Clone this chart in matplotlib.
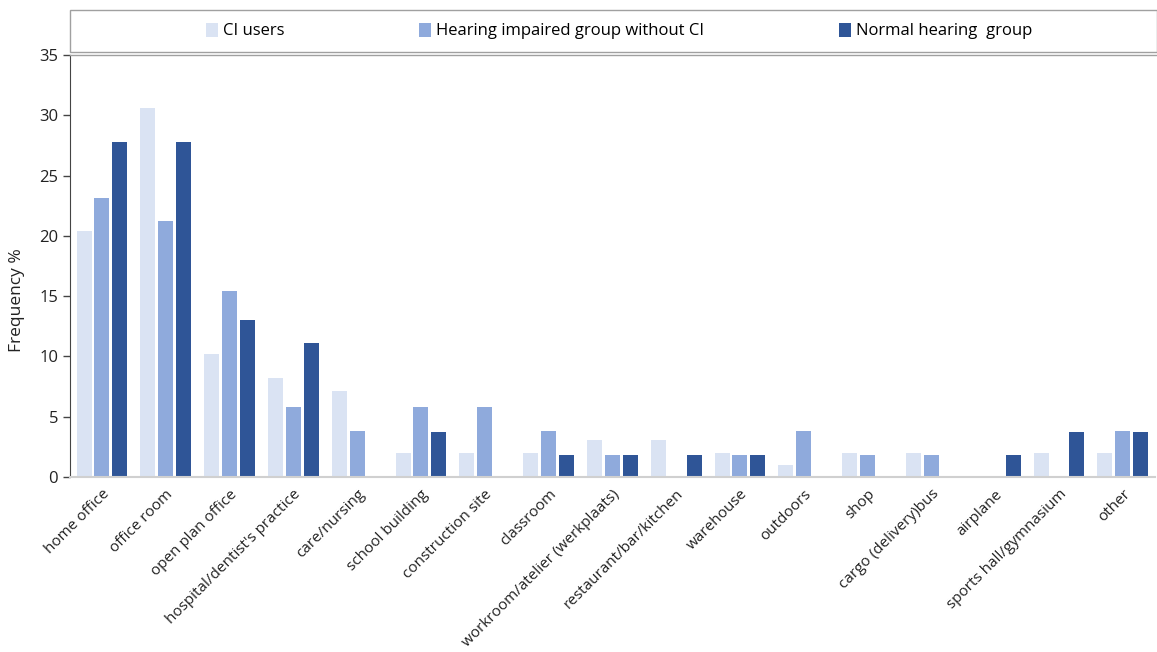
import matplotlib
matplotlib.use("Agg")
import matplotlib.pyplot as plt
import numpy as np
from matplotlib.patches import Rectangle

categories = [
    "home office", "office room", "open plan office", "hospital/dentist's practice",
    "care/nursing", "school building", "construction site", "classroom",
    "workroom/atelier (werkplaats)", "restaurant/bar/kitchen", "warehouse",
    "outdoors", "shop", "cargo (delivery)bus", "airplane",
    "sports hall/gymnasium", "other",
]
ci_users = [20.4, 30.6, 10.2, 8.2, 7.1, 2.0, 2.0, 2.0, 3.1, 3.1, 2.0, 1.0, 2.0, 2.0, 0.0, 2.0, 2.0]
hearing_impaired = [23.1, 21.2, 15.4, 5.8, 3.8, 5.8, 5.8, 3.8, 1.85, 0.0, 1.85, 3.8, 1.85, 1.85, 0.0, 0.0, 3.8]
normal_hearing = [27.8, 27.8, 13.0, 11.1, 0.0, 3.7, 0.0, 1.85, 1.85, 1.85, 1.85, 0.0, 0.0, 0.0, 1.85, 3.7, 3.7]
series_names = ["CI users", "Hearing impaired group without CI", "Normal hearing  group"]
y_ticks = [0, 5, 10, 15, 20, 25, 30, 35]

colors = ["#DAE3F3", "#8FAADC", "#2F5597"]
plt.rcParams["font.family"] = ["Open Sans", "DejaVu Sans"]

fig = plt.figure(figsize=(11.57, 6.52), dpi=100)
ax = fig.add_axes([70 / 1157, 1 - 477 / 652, 1 - 70 / 1157 - 0.002, (477 - 55) / 652])

x = np.arange(len(categories))
step = 0.28
width = 0.235
handles = []
for i, (vals, name, c) in enumerate(zip([ci_users, hearing_impaired, normal_hearing], series_names, colors)):
    h = ax.bar(x + (i - 1) * step, vals, width=width, color=c, label=name, zorder=2)
    handles.append(h)

ax.set_xlim(-0.5, len(categories) - 0.5)
ax.set_ylim(0, 35)
ax.set_yticks(y_ticks)
ax.set_yticklabels([str(t) for t in y_ticks], fontsize=12, color="#222222")
ax.set_ylabel("Frequency %", fontsize=12.5, color="#222222")
ax.yaxis.set_label_coords(-0.0414, (477 - 300) / (477 - 55))
ax.set_xticks(x)
ax.set_xticklabels(categories, rotation=45, ha="right", rotation_mode="anchor", fontsize=11, color="#222222")
ax.tick_params(axis="x", length=0, pad=7)
ax.tick_params(axis="y", length=5, color="#444444", width=1)

for s in ["top", "right"]:
    ax.spines[s].set_visible(False)
ax.spines["left"].set_color("#444444")
ax.spines["bottom"].set_color("#D0D0D0")
ax.spines["bottom"].set_linewidth(1.5)

# legend box across the top
fig.patches.append(Rectangle((70 / 1157, 1 - 52 / 652), 1 - 70 / 1157, 42 / 652,
                             transform=fig.transFigure, facecolor="white",
                             edgecolor="#A0A0A0", linewidth=1.0))
fig.add_artist(plt.Line2D([70 / 1157, 1], [1 - 55 / 652, 1 - 55 / 652],
                          transform=fig.transFigure, color="#A0A0A0", linewidth=1.0))
leg = fig.legend(handles, series_names, loc="center", bbox_to_anchor=(0.535, 1 - 31 / 652),
                 ncol=3, frameon=False, fontsize=12, handlelength=0.7, handleheight=0.9,
                 handletextpad=0.3, columnspacing=8.1)

fig.savefig("out.png", dpi=100)
